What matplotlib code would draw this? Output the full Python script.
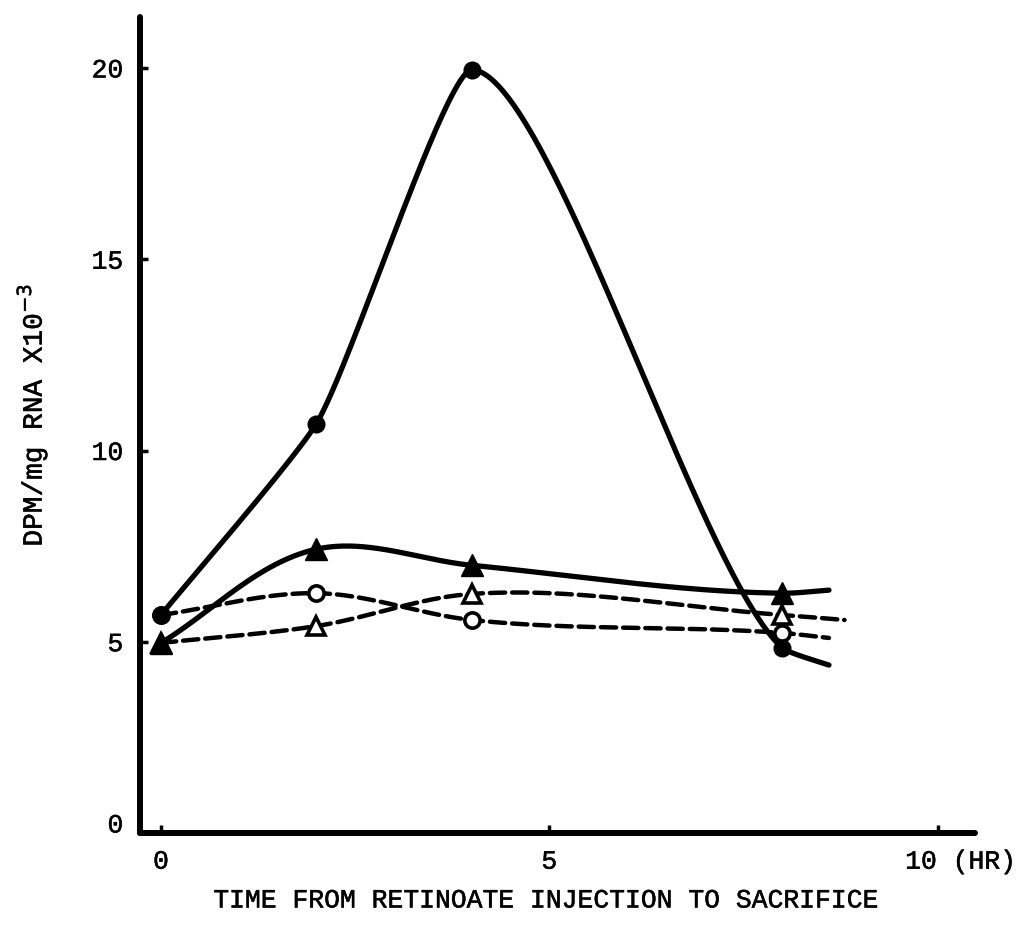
import matplotlib
matplotlib.use("Agg")
import matplotlib.pyplot as plt
import matplotlib.transforms as mtransforms
import matplotlib.patheffects as pe
import numpy as np

plt.rcParams['font.family'] = ['Liberation Mono', 'DejaVu Sans Mono']
plt.rcParams['lines.scale_dashes'] = False

# sampling times (hr) and DPM/mg RNA x10^-3
t_hr = [0, 2, 4, 8]
filled_circle = [5.7, 10.7, 19.95, 4.84]
filled_tri = [4.97, 7.42, 7.0, 6.27]
open_circle = [5.7, 6.27, 5.57, 5.23]
open_tri = [4.97, 5.41, 6.25, 5.7]

# where each hand-drawn curve runs out past the last sample
end_filled_circle = (8.6, 4.39)
end_filled_tri = (8.6, 6.35)
end_open_circle = (8.6, 5.1)
end_open_tri = (8.8, 5.57)

xticks = [0, 5, 10]
xticklabels = ["0", "5", "10 (HR)"]
yticks = [0, 5, 10, 15, 20]

XLIM = (-0.27, 10.48)
YLIM = (0, 21.33)


def french_curve(x, y, aspect, tension=1.0, peak=None, n=120):
    # parametric hermite through the points, worked in screen-like units.
    # peak=(left, right): flat tangent at a local max/min with its own tension
    P = np.column_stack([np.asarray(x, float), np.asarray(y, float) * aspect])
    k = len(P)
    chords = np.diff(P, axis=0)
    clen = np.hypot(chords[:, 0], chords[:, 1])
    dirs = np.zeros_like(P)
    t_in = np.full(k, tension)
    t_out = np.full(k, tension)
    for i in range(k):
        if i == 0:
            d = chords[0]
        elif i == k - 1:
            d = chords[-1]
        else:
            d = chords[i - 1] / clen[i - 1] + chords[i] / clen[i]
            turn = (P[i, 1] - P[i - 1, 1]) * (P[i + 1, 1] - P[i, 1]) < 0
            if peak is not None and turn:
                d = np.array([1.0, 0.0])
                t_in[i], t_out[i] = peak
        dirs[i] = d / np.hypot(*d)
    t = np.linspace(0, 1, n)[:, None]
    h00 = 2 * t**3 - 3 * t**2 + 1
    h10 = t**3 - 2 * t**2 + t
    h01 = -2 * t**3 + 3 * t**2
    h11 = t**3 - t**2
    out = []
    for s in range(k - 1):
        T0 = dirs[s] * t_out[s] * clen[s]
        T1 = dirs[s + 1] * t_in[s + 1] * clen[s]
        out.append(h00 * P[s] + h10 * T0 + h01 * P[s + 1] + h11 * T1)
    out = np.vstack(out)
    return out[:, 0], out[:, 1] / aspect


fig = plt.figure(figsize=(10.22, 9.40), dpi=100)
ax = fig.add_axes([0.137, 0.1138, 0.817, 0.868])
ax.set_xlim(*XLIM)
ax.set_ylim(*YLIM)

# y stretch relative to x on screen
bbox = ax.get_position()
aspect = (bbox.height * 9.40 / (YLIM[1] - YLIM[0])) / (bbox.width * 10.22 / (XLIM[1] - XLIM[0]))


def curve(vals, end, **kw):
    xs = list(t_hr) + [end[0]]
    ys = list(vals) + [end[1]]
    return french_curve(xs, ys, aspect, **kw)


# dashed curves (open symbols)
for vals, end in [(open_circle, end_open_circle), (open_tri, end_open_tri)]:
    xx, yy = curve(vals, end)
    ax.plot(xx, yy, color='black', lw=3.2, dashes=(11, 5),
            dash_capstyle='round', zorder=2)

# solid curves (filled symbols)
xx, yy = curve(filled_circle, end_filled_circle, tension=0.5, peak=(0.2, 0.35))
ax.plot(xx, yy, color='black', lw=3.8, solid_capstyle='round', zorder=3)
xx, yy = curve(filled_tri, end_filled_tri)
ax.plot(xx, yy, color='black', lw=3.8, solid_capstyle='round', zorder=3)

ax.plot(t_hr, open_circle, ls='none', marker='o', ms=11, mfc='white',
        mec='black', mew=2.6, zorder=4)
ax.plot(t_hr, open_tri, ls='none', marker='^', ms=13, mfc='white',
        mec='black', mew=2.6, zorder=4)
ax.plot(t_hr, filled_tri, ls='none', marker='^', ms=16, color='black', zorder=5)
ax.plot(t_hr, filled_circle, ls='none', marker='o', ms=12, color='black', zorder=5)

for side in ['top', 'right']:
    ax.spines[side].set_visible(False)
for side in ['left', 'bottom']:
    ax.spines[side].set_linewidth(4.3)
    ax.spines[side].set_capstyle('round')

ax.set_xticks(xticks)
ax.set_xticklabels(xticklabels)
ax.set_yticks(yticks)
ax.tick_params(direction='in', length=6, width=2.5, labelsize=19, pad=12)

# "10 (HR)" sits right of its tick, "0" a little above the axis line
lab = ax.get_xticklabels()[-1]
lab.set_transform(lab.get_transform() +
                  mtransforms.ScaledTranslation(0.23, 0, fig.dpi_scale_trans))
lab0 = ax.get_yticklabels()[0]
lab0.set_transform(lab0.get_transform() +
                   mtransforms.ScaledTranslation(0, 0.10, fig.dpi_scale_trans))

ax.set_xlabel("TIME FROM RETINOATE INJECTION TO SACRIFICE", fontsize=19)
ax.xaxis.set_label_coords(0.487, -0.068)
ax.set_ylabel("DPM/mg RNA X10$^{-3}$", fontsize=20)
ax.yaxis.set_label_coords(-0.108, 0.512)

# typewriter ink is a bit heavier than the plain font
ink = [pe.withStroke(linewidth=0.35, foreground='black')]
for t in ax.get_xticklabels() + ax.get_yticklabels() + [ax.xaxis.label, ax.yaxis.label]:
    t.set_path_effects(ink)

fig.savefig("out.png", dpi=100)
